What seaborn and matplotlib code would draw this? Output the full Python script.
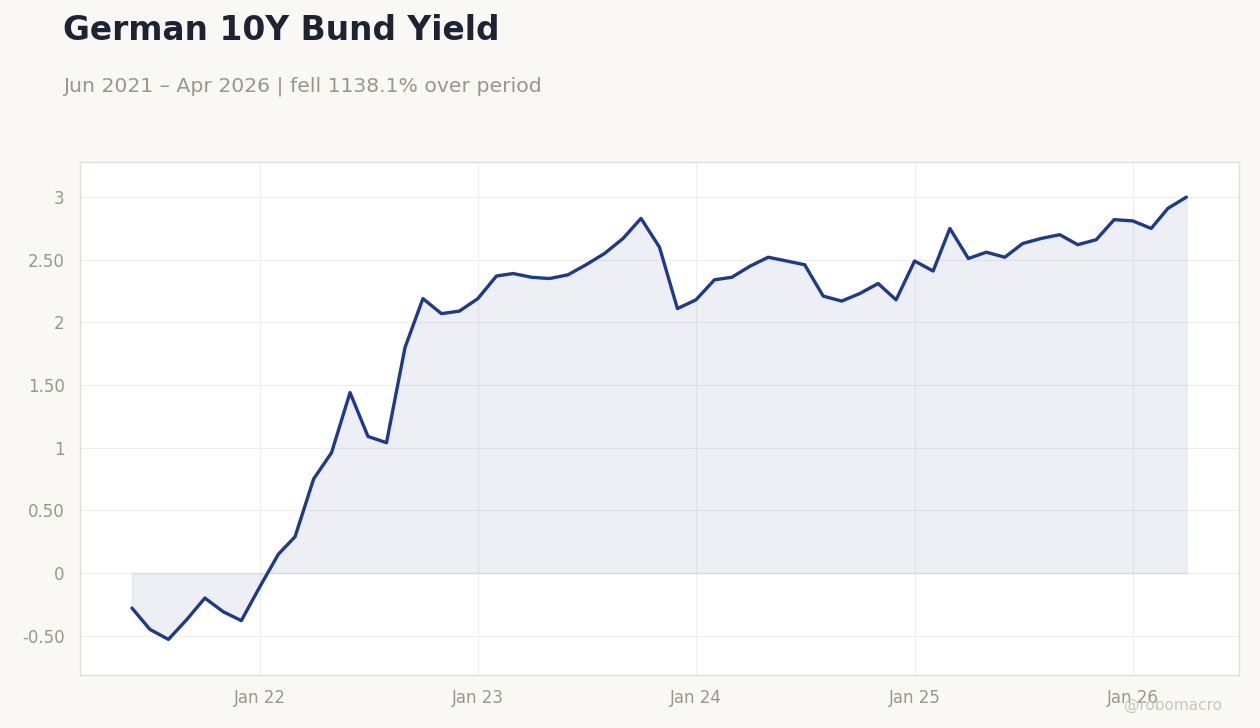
import numpy as np
import pandas as pd
import matplotlib
matplotlib.use("Agg")
import matplotlib.pyplot as plt
import matplotlib.dates as mdates
from matplotlib.ticker import FuncFormatter, FixedLocator
import seaborn as sns

# ---- data ----
start_month = "2021-06-01"
yields = [
    -0.28, -0.45, -0.53, -0.37, -0.20, -0.31, -0.38,            # Jun-Dec 2021
    -0.11, 0.15, 0.29, 0.75, 0.96, 1.44, 1.09, 1.04, 1.80, 2.19, 2.07, 2.09,  # 2022
    2.19, 2.37, 2.39, 2.36, 2.35, 2.38, 2.46, 2.55, 2.67, 2.83, 2.60, 2.11,  # 2023
    2.18, 2.34, 2.36, 2.45, 2.52, 2.49, 2.46, 2.21, 2.17, 2.23, 2.31, 2.18,  # 2024
    2.49, 2.41, 2.75, 2.51, 2.56, 2.52, 2.63, 2.67, 2.70, 2.62, 2.66, 2.82,  # 2025
    2.81, 2.75, 2.91, 3.00,                                        # Jan-Apr 2026
]
dates = pd.date_range(start_month, periods=len(yields), freq="MS")
y_ticks = [-0.5, 0, 0.5, 1, 1.5, 2, 2.5, 3]
x_tick_dates = pd.to_datetime(["2022-01-01", "2023-01-01", "2024-01-01", "2025-01-01", "2026-01-01"])

title = "German 10Y Bund Yield"
subtitle = "Jun 2021 \u2013 Apr 2026 | fell 1138.1% over period"
watermark = "@robomacro"

df = pd.DataFrame({"date": dates, "yield": yields})

# ---- style ----
sns.set_theme(style="white")
plt.rcParams["font.family"] = ["DejaVu Sans"]

BG = "#f9f8f5"
LINE = "#1e3a8a"
TICK = "#9a9590"
SPINE = "#e2ddd5"
GRID = "#eeeeee"

fig = plt.figure(figsize=(12.6, 7.28), dpi=100, facecolor=BG)
ax = fig.add_axes([80 / 1260, 53 / 728, (1239 - 80) / 1260, (675 - 162) / 728])
ax.set_facecolor("white")

ax.fill_between(df["date"], df["yield"], 0, color=LINE, alpha=0.08,
                edgecolor=LINE, linewidth=1.0, zorder=1)
sns.lineplot(data=df, x="date", y="yield", ax=ax, color=LINE, linewidth=2.4, zorder=3)

ax.set_xlim(pd.Timestamp("2021-03-06"), pd.Timestamp("2026-06-28"))
ax.set_ylim(-0.814, 3.28)

ax.xaxis.set_major_locator(FixedLocator(mdates.date2num(x_tick_dates)))
ax.xaxis.set_major_formatter(mdates.DateFormatter("%b %y"))
ax.yaxis.set_major_locator(FixedLocator(y_ticks))

def yfmt(v, pos):
    if abs(v) < 1e-9:
        return "0"
    if abs(v - round(v)) < 1e-9:
        return "%d" % round(v)
    return "%.2f" % v

ax.yaxis.set_major_formatter(FuncFormatter(yfmt))

ax.grid(True, color=GRID, linewidth=0.8)
ax.set_axisbelow(True)
for s in ax.spines.values():
    s.set_color(SPINE)
    s.set_linewidth(1.0)

ax.tick_params(axis="both", colors=TICK, labelsize=12, length=5, width=0.8,
               labelcolor=TICK, direction="out")
ax.tick_params(axis="x", pad=5)
ax.tick_params(axis="y", pad=6)
ax.set_xlabel("")
ax.set_ylabel("")

fig.text(63 / 1260, 1 - 31 / 728, title, fontsize=23.7, fontweight="bold",
         color="#1c2333", ha="left", va="center")
fig.text(63 / 1260, 1 - 86 / 728, subtitle, fontsize=14.65, color=TICK,
         ha="left", va="center")
fig.text(1222 / 1260, 1 - 705 / 728, watermark, fontsize=11, color="#c9c5c0",
         ha="right", va="center")

fig.savefig("out.png", dpi=100, facecolor=BG)
